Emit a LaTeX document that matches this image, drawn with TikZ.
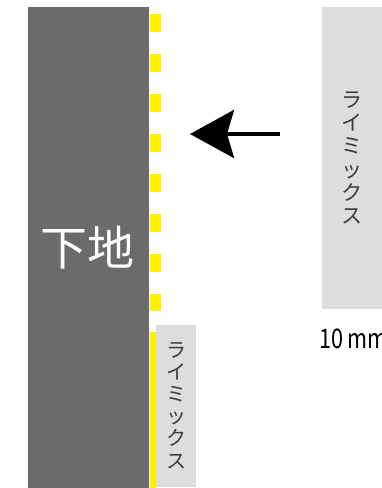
\documentclass[tikz,border=0pt]{standalone}
\usepackage{fontspec}
\setmainfont{Noto Sans CJK JP}
\newfontfamily\narrowfont[FakeStretch=0.8]{Noto Sans CJK JP}
\usetikzlibrary{arrows.meta}
\definecolor{BaseGray}{HTML}{6B6B6B}
\definecolor{MixGray}{HTML}{DCDDDD}
\definecolor{MixText}{HTML}{3E3A39}
\definecolor{LayerYellow}{HTML}{FFF000}

\begin{document}
\begin{tikzpicture}[
    x=1pt, y=-1pt,
    basebox/.style={fill=BaseGray, inner sep=0pt, text=white,
      font=\fontsize{47}{50}\selectfont},
    mixbox/.style={fill=MixGray, inner sep=0pt, align=center, text=MixText},
    layer/.style={draw=LayerYellow},
    arrow/.style={-{Stealth[length=44pt, width=48pt, inset=7pt]}, line width=4.5pt, color=black}
  ]
    \useasboundingbox (0,0) rectangle (382,488);
    \clip (0,0) rectangle (382,488);
    \node[basebox, minimum width=121pt, minimum height=481pt] (base) at (88,247.5) {下地};
    \node[mixbox, minimum width=61pt, minimum height=302pt,
      font=\fontsize{21}{23.3}\selectfont] (mix) at (352,158) {ラ\\イ\\ミ\\ッ\\ク\\ス};
    \node[mixbox, minimum width=40pt, minimum height=162pt,
      font=\fontsize{20}{22.2}\selectfont] (mixthin) at (176,405.5) {ラ\\イ\\ミ\\ッ\\ク\\ス};
    \node[anchor=base west, inner sep=0pt, text=black,
      font=\narrowfont\fontsize{27}{30}\selectfont] (thick) at (319,348.5) {10\,mm};
    % yellow layer
    \coordinate (dashtop) at (155.3,14);
    \coordinate (dashbot) at (155.3,311);
    \coordinate (solidtop) at (153,332);
    \coordinate (solidbot) at (153,488);
    \draw[layer, line width=10.7pt, dash pattern=on 17.5pt off 22.5pt] (dashtop) -- (dashbot);
    \draw[layer, line width=6pt] (solidtop) -- (solidbot);
    % arrow
    \coordinate (from) at (280,134);
    \coordinate (to) at (190,134);
    \draw[arrow] (from) -- (to);
  \end{tikzpicture}
\end{document}
